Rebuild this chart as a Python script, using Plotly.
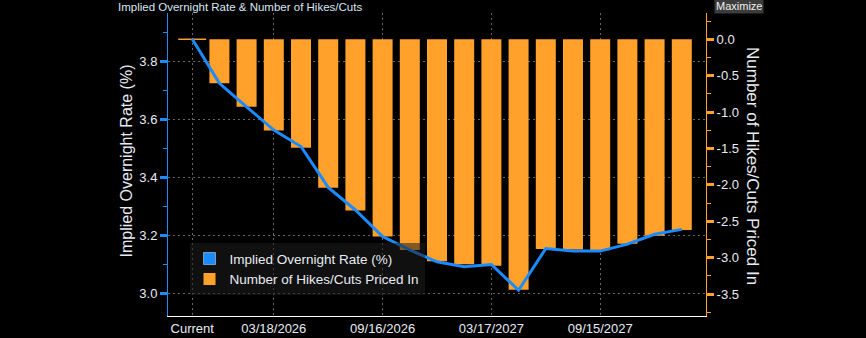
import plotly.graph_objects as go

# ---- data ----
categories = ["Current", "12/10/2025", "01/28/2026", "03/18/2026", "04/29/2026",
              "06/17/2026", "07/29/2026", "09/16/2026", "10/28/2026", "12/09/2026",
              "01/27/2027", "03/17/2027", "04/28/2027", "06/09/2027", "07/28/2027",
              "09/15/2027", "10/27/2027", "12/08/2027", "01/26/2028"]
implied_rate = [3.878, 3.725, 3.644, 3.564, 3.507, 3.366, 3.288, 3.196, 3.150, 3.109,
                3.092, 3.100, 3.011, 3.155, 3.146, 3.146, 3.170, 3.204, 3.221]
hikes_cuts = [0.0, -0.604, -0.926, -1.255, -1.489, -2.04, -2.354, -2.711, -2.894, -3.05,
              -3.09, -3.11, -3.44, -2.88, -2.89, -2.90, -2.81, -2.70, -2.62]
x_tick_labels = ["Current", "03/18/2026", "09/16/2026", "03/17/2027", "09/15/2027"]
left_ticks = [3.0, 3.2, 3.4, 3.6, 3.8]
right_ticks = [0.0, -0.5, -1.0, -1.5, -2.0, -2.5, -3.0, -3.5]
right_tick_text = ["0.0", "-0.5", "-1.0", "-1.5", "-2.0", "-2.5", "-3.0", "-3.5"]

rate_name = "Implied Overnight Rate (%)"
hikes_name = "Number of Hikes/Cuts Priced In"

BLUE = "#1a8cff"
ORANGE = "#ffa12b"
TXT = "#e8ecf2"
GRID = "#666666"
FONT = "Liberation Sans"

fig = go.Figure()

# legend proxy (square swatch for the line series)
fig.add_trace(go.Bar(x=[None], y=[None], name=rate_name, marker_color=BLUE,
                     yaxis="y", showlegend=True))
fig.add_trace(go.Bar(x=categories, y=hikes_cuts, name=hikes_name, marker_color=ORANGE,
                     marker_line_width=0, yaxis="y", width=0.735))
# zero-valued bars drawn as a thin line
zero_x = [c for c, v in zip(categories, hikes_cuts) if v == 0]
zero_y = [v for v in hikes_cuts if v == 0]
fig.add_trace(go.Scatter(x=zero_x, y=zero_y, mode="markers", yaxis="y", showlegend=False,
                         marker=dict(symbol="line-ew", size=20,
                                     line=dict(color=ORANGE, width=1.5)),
                         cliponaxis=False, hoverinfo="skip"))
fig.add_trace(go.Scatter(x=categories, y=implied_rate, name=rate_name, mode="lines",
                         line=dict(color=BLUE, width=3), yaxis="y2", showlegend=False))

fig.update_layout(
    width=866, height=338,
    paper_bgcolor="black", plot_bgcolor="black",
    margin=dict(l=168, r=160, t=13, b=22, autoexpand=False),
    barmode="overlay",
    font=dict(family=FONT, size=13, color=TXT),
    title=dict(text="Implied Overnight Rate & Number of Hikes/Cuts",
               font=dict(family=FONT, size=11.5, color="#dbe6f0"),
               xref="container", yref="container", x=118 / 866, xanchor="left",
               y=1 - 7 / 338, yanchor="middle"),
    xaxis=dict(type="category", range=[-0.89, 18.89], automargin=False,
               tickmode="array", tickvals=x_tick_labels, ticktext=x_tick_labels,
               showline=True, linecolor="white", linewidth=1,
               showgrid=True, gridcolor=GRID, griddash="2px,3px", gridwidth=1,
               ticks="", tickfont=dict(size=13, color=TXT), zeroline=False),
    yaxis=dict(side="right", range=[-3.802, 0.361], automargin=False,
               tickmode="array", tickvals=right_ticks, ticktext=right_tick_text,
               showline=True, linecolor=ORANGE, linewidth=1,
               ticks="outside", ticklen=7, tickwidth=3, tickcolor=ORANGE,
               minor=dict(dtick=0.25, tick0=0, ticks="outside", ticklen=4,
                          tickwidth=1, tickcolor=ORANGE, showgrid=False),
               showgrid=False, zeroline=False, tickfont=dict(size=13, color=TXT)),
    yaxis2=dict(side="left", overlaying="y", range=[2.922, 3.968], automargin=False,
                tickmode="array", tickvals=left_ticks, tickformat=".1f",
                showline=True, linecolor=BLUE, linewidth=1,
                ticks="outside", ticklen=7, tickwidth=3, tickcolor=BLUE,
                minor=dict(dtick=0.1, tick0=3.0, ticks="outside", ticklen=4,
                           tickwidth=1, tickcolor=BLUE, showgrid=False),
                showgrid=True, gridcolor=GRID, griddash="2px,3px", gridwidth=1,
                zeroline=False, tickfont=dict(size=13, color=TXT)),
    legend=dict(x=0.040, xanchor="left", y=0.24, yanchor="top",
                bgcolor="rgba(30,30,30,0.55)", borderwidth=0,
                font=dict(family=FONT, size=13.5, color=TXT),
                traceorder="normal", itemclick=False),
    showlegend=True,
)

fig.add_annotation(text=rate_name, xref="paper", yref="paper",
                   x=(126 - 168) / 538, y=0.51, xanchor="center", yanchor="middle",
                   textangle=-90, showarrow=False,
                   font=dict(family=FONT, size=16, color=TXT))
fig.add_annotation(text=hikes_name, xref="paper", yref="paper",
                   x=(753 - 168) / 538, y=0.495, xanchor="center", yanchor="middle",
                   textangle=90, showarrow=False,
                   font=dict(family=FONT, size=17, color=TXT))
fig.add_annotation(text="Maximize", xref="paper", yref="paper",
                   x=(739 - 168) / 538, y=(316 - 6.5) / 303, xanchor="center",
                   yanchor="middle", showarrow=False, bgcolor="#3c3c3c", borderpad=1,
                   font=dict(family=FONT, size=11, color="#f0f0f0"))

fig.write_html("out.html")
